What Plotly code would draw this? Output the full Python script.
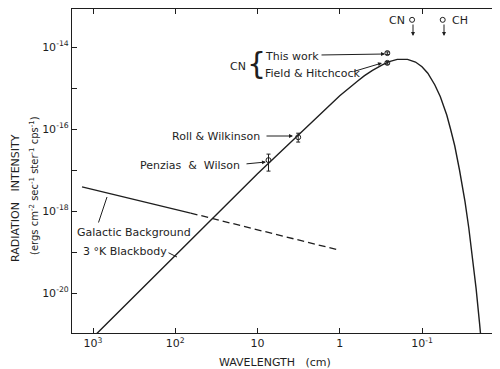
import math
import plotly.graph_objects as go

# ---------------- data ----------------
bb_lambda = [1000, 500, 100, 10, 1, 0.8, 0.6, 0.5, 0.4, 0.3, 0.25, 0.2, 0.17, 0.15,
             0.12, 0.1, 0.085, 0.07, 0.06, 0.05, 0.045, 0.04, 0.035, 0.03, 0.027,
             0.025, 0.022, 0.02, 0.019]
bb_intensity = [8.3e-22, 3.3e-21, 8.3e-20, 8.1e-18, 6.5e-16, 9.5e-16, 1.5e-15, 2.0e-15,
                2.7e-15, 3.7e-15, 4.4e-15, 5.0e-15, 5.1e-15, 5.0e-15, 4.3e-15, 3.3e-15,
                2.3e-15, 1.2e-15, 6.2e-16, 2.2e-16, 1.0e-16, 3.9e-17, 1.0e-17, 1.7e-18,
                3.9e-19, 1.2e-19, 1.3e-20, 1.9e-21, 6.3e-22]

gal_solid_lambda = [1360, 65]
gal_solid_intensity = [3.9e-18, 8.9e-19]
gal_dash_lambda = [65, 1.0]
gal_dash_intensity = [8.9e-19, 1.1e-19]

meas_names = ["Penzias & Wilson", "Roll & Wilkinson", "This work", "Field & Hitchcock"]
meas_lambda = [7.35, 3.2, 0.264, 0.264]
meas_intensity = [1.74e-17, 6.3e-17, 7.1e-15, 4.1e-15]
meas_err_plus = [0.7e-17, 1.6e-17, 0.5e-15, 0.3e-15]
meas_err_minus = [0.8e-17, 1.5e-17, 0.5e-15, 0.3e-15]

limit_names = ["CN", "CH"]
limit_lambda = [0.132, 0.056]
limit_intensity = [4.6e-14, 4.6e-14]

x_tickvals = [1000, 100, 10, 1, 0.1]
x_ticktext = ["10<sup>3</sup>", "10<sup>2</sup>", "10", "1", "10<sup>-1</sup>"]
y_tickvals = [1e-13, 1e-14, 1e-15, 1e-16, 1e-17, 1e-18, 1e-19, 1e-20, 1e-21]
y_ticktext = ["", "10<sup>-14</sup>", "", "10<sup>-16</sup>", "", "10<sup>-18</sup>", "",
              "10<sup>-20</sup>", ""]

# ---------------- layout geometry (page pixels; page has an 8px body margin) ----------------
OFF = 8
FW, FH = 492, 361
P_L, P_R, P_T, P_B = 72, 499, 9, 333          # plot box in page pixels
XPD = 82.25                                     # pixels per decade (x)
YPD = 41.0                                      # pixels per decade (y)
XR = [3 + (93 - P_L) / XPD, 3 - (P_R - 93) / XPD]
YR = [-14 - (P_B - 47) / YPD, -14 - (P_T - 47) / YPD]
FONT = "DejaVu Sans"
INK = "#1e1e1e"
NB = "\u00a0"


def gx(px):
    return 3 - (px - 93) / XPD


def gy(py):
    return -14 - (py - 47) / YPD


def px_paper(px):
    return (px - P_L) / (P_R - P_L)


def py_paper(py):
    return (P_B - py) / (P_B - P_T)


fig = go.Figure()

fig.add_trace(go.Scatter(x=bb_lambda, y=bb_intensity, mode="lines",
                         line=dict(color=INK, width=1.4), showlegend=False))
fig.add_trace(go.Scatter(x=gal_solid_lambda, y=gal_solid_intensity, mode="lines",
                         line=dict(color=INK, width=1.3), showlegend=False))
fig.add_trace(go.Scatter(x=gal_dash_lambda, y=gal_dash_intensity, mode="lines",
                         line=dict(color=INK, width=1.3, dash="7px,4px"), showlegend=False))
fig.add_trace(go.Scatter(x=meas_lambda, y=meas_intensity, mode="markers",
                         marker=dict(symbol="circle-open", size=5, color=INK,
                                     line=dict(width=1, color=INK)),
                         error_y=dict(type="data", array=meas_err_plus,
                                      arrayminus=meas_err_minus, color=INK,
                                      thickness=1, width=2),
                         text=meas_names, showlegend=False))
fig.add_trace(go.Scatter(x=limit_lambda, y=limit_intensity, mode="markers",
                         marker=dict(symbol="circle-open", size=5, color=INK,
                                     line=dict(width=1, color=INK)),
                         text=limit_names, showlegend=False))

ann = []


def text(px, py, s, anchor="left", size=11):
    ann.append(dict(x=gx(px), y=gy(py), xref="x", yref="y", text=s, showarrow=False,
                    xanchor=anchor, yanchor="middle",
                    font=dict(family=FONT, size=size, color=INK)))


def arrow(px0, py0, px1, py1, head=2):
    ann.append(dict(x=gx(px1), y=gy(py1), ax=gx(px0), ay=gy(py0), xref="x", yref="y",
                    axref="x", ayref="y", text="", showarrow=True, arrowhead=head,
                    arrowsize=0.8, arrowwidth=1, arrowcolor=INK, standoff=0,
                    startstandoff=0))


# labels
text(228, 66, "CN", "left")
text(245, 63, "{", "left", size=30)
text(263, 56, "This" + NB + "work")
text(263, 73, "Field" + NB + "&" + NB + "Hitchcock")
arrow(320, 55, 385, 54)
arrow(352, 72, 382, 63)
text(262, 136, "Roll" + NB + "&" + NB + "Wilkinson", "right")
arrow(265, 136, 293, 136)
text(242, 165, "Penzias" + NB + NB + "&" + NB + NB + "Wilson", "right")
arrow(245, 164, 266, 162)
text(75, 232, "Galactic" + NB + "Background")
arrow(98, 224, 107, 197, head=0)
text(81, 251, "3" + NB + "°K" + NB + "Blackbody")
arrow(167, 252, 177, 257, head=0)
# CN / CH upper limits
text(407, 20, "CN", "right")
text(450, 20, "CH", "left")
arrow(413, 23, 413, 36)
arrow(444, 23, 444, 36)

# axis titles
ann.append(dict(x=px_paper(16), y=py_paper(198), xref="paper", yref="paper",
                text="RADIATION" + NB * 3 + "INTENSITY", showarrow=False, textangle=-90,
                xanchor="center", yanchor="middle",
                font=dict(family=FONT, size=11, color=INK)))
ann.append(dict(x=px_paper(34), y=py_paper(186), xref="paper", yref="paper",
                text="(ergs cm<sup>-2</sup> sec<sup>-1</sup> ster<sup>-1</sup> cps<sup>-1</sup>)",
                showarrow=False, textangle=-90, xanchor="center", yanchor="middle",
                font=dict(family=FONT, size=10, color=INK)))
ann.append(dict(x=px_paper(275), y=py_paper(362), xref="paper", yref="paper",
                text="WAVELENGTH" + NB * 3 + "(cm)", showarrow=False,
                xanchor="center", yanchor="middle",
                font=dict(family=FONT, size=11, color=INK)))

fig.update_layout(
    width=FW, height=FH,
    margin=dict(l=P_L - OFF, r=FW - (P_R - OFF), t=P_T - OFF, b=FH - (P_B - OFF), pad=0),
    paper_bgcolor="white", plot_bgcolor="white",
    annotations=ann,
    showlegend=False,
    xaxis=dict(type="log", range=XR, tickvals=x_tickvals, ticktext=x_ticktext,
               ticks="inside", ticklen=5, tickwidth=1, tickcolor=INK,
               showline=True, linecolor=INK, linewidth=1.2, mirror="ticks",
               showgrid=False, zeroline=False,
               tickfont=dict(family=FONT, size=11, color=INK)),
    yaxis=dict(type="log", range=YR, tickvals=y_tickvals, ticktext=y_ticktext,
               ticks="inside", ticklen=5, tickwidth=1, tickcolor=INK,
               showline=True, linecolor=INK, linewidth=1.2, mirror="ticks",
               showgrid=False, zeroline=False,
               tickfont=dict(family=FONT, size=11, color=INK)),
)

fig.write_html("out.html")
